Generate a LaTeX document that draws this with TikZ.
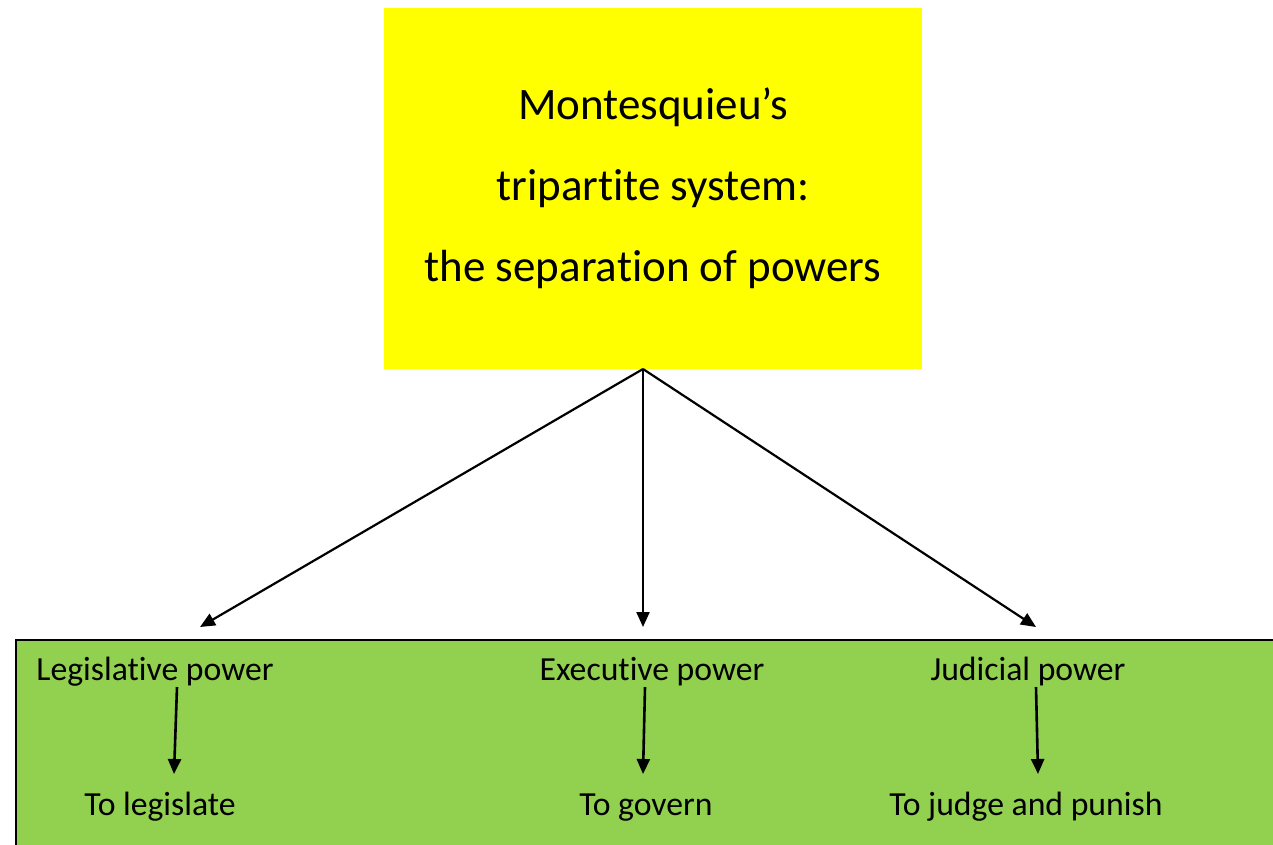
\documentclass[tikz,border=0pt]{standalone}
\usepackage{fontspec}
\setmainfont[Ligatures=NoCommon]{Carlito}
\usetikzlibrary{arrows.meta}
\definecolor{ylw}{HTML}{FFFF00}
\definecolor{grn}{HTML}{92D050}
\begin{document}
\begin{tikzpicture}[x=1pt,y=-1pt,
  titlebox/.style={fill=ylw,minimum width=538pt,minimum height=361pt,inner sep=0pt,align=center,font=\fontsize{45}{81}\selectfont},
  lbl/.style={inner sep=0pt,anchor=base,font=\fontsize{33.7}{40}\selectfont},
  mainarrow/.style={line width=2.2pt,-{Triangle[length=15pt,width=13pt]}},
  subarrow/.style={line width=2.6pt,-{Triangle[length=15pt,width=13pt]}}]
\useasboundingbox (0,0) rectangle (1273,844);
\clip (0,0) rectangle (1273,844);
\node[fill=grn,draw=black,line width=2pt,minimum width=1280pt,minimum height=220pt,anchor=north west,inner sep=0pt] (panel) at (15,639) {};
\node[titlebox] (title) at (653,188.5) {Montesquieu’s\\tripartite system:\\the separation of powers};
\coordinate (apex) at (643,369);
\coordinate (legtip) at (200,627);
\coordinate (exetip) at (643,627);
\coordinate (judtip) at (1036,627);
\draw[mainarrow] (apex) -- (legtip);
\draw[mainarrow] (apex) -- (exetip);
\draw[mainarrow] (apex) -- (judtip);
\node[lbl] (leg) at (155,680) {Legislative power};
\node[lbl] (exe) at (652,680) {Executive power};
\node[lbl] (jud) at (1028,680) {Judicial power};
\node[lbl] (legf) at (160,815) {To legislate};
\node[lbl] (exef) at (646,815) {To govern};
\node[lbl] (judf) at (1026,815) {To judge and punish};
\coordinate (l1) at (177,687); \coordinate (l2) at (174,774);
\coordinate (e1) at (645,687); \coordinate (e2) at (643,774);
\coordinate (j1) at (1036,687); \coordinate (j2) at (1038,774);
\draw[subarrow] (l1) -- (l2);
\draw[subarrow] (e1) -- (e2);
\draw[subarrow] (j1) -- (j2);
\end{tikzpicture}
\end{document}
